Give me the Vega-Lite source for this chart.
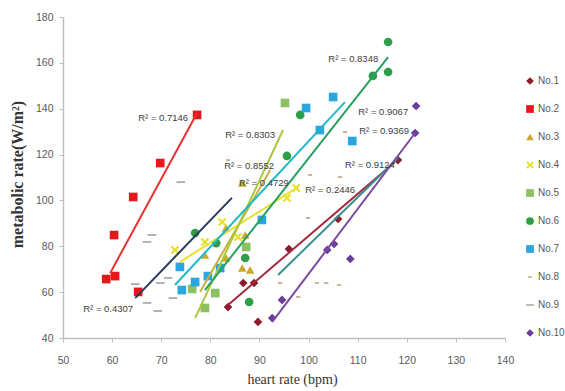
{
  "$schema": "https://vega.github.io/schema/vega-lite/v6.json",
  "width": 442,
  "height": 321,
  "autosize": {"type": "none"},
  "padding": {"left": 63, "top": 17, "right": 60, "bottom": 53},
  "background": "white",
  "config": {
    "view": {"stroke": null},
    "axis": {
      "grid": false,
      "labelFlush": false,
      "domainColor": "#bfbfbf",
      "domainWidth": 1.5,
      "tickColor": "#bfbfbf",
      "tickSize": 4,
      "labelColor": "#595959",
      "labelFont": "Liberation Sans",
      "labelFontSize": 10.5,
      "titleColor": "#333333",
      "titleFont": "Liberation Serif"
    },
    "legend": {
      "labelFont": "Liberation Sans",
      "labelFontSize": 10,
      "labelColor": "#595959",
      "symbolStrokeWidth": 0
    }
  },
  "datasets": {
    "pts": [
      {"series": "No.1", "hr": 83.6, "rate": 53.5},
      {"series": "No.1", "hr": 86.7, "rate": 64.0},
      {"series": "No.1", "hr": 88.9, "rate": 64.0},
      {"series": "No.1", "hr": 89.7, "rate": 47.0},
      {"series": "No.1", "hr": 96.0, "rate": 78.8},
      {"series": "No.1", "hr": 106.0, "rate": 91.9},
      {"series": "No.1", "hr": 118.2, "rate": 117.6},
      {"series": "No.2", "hr": 58.8, "rate": 65.7},
      {"series": "No.2", "hr": 60.6, "rate": 67.0},
      {"series": "No.2", "hr": 60.4, "rate": 84.9},
      {"series": "No.2", "hr": 64.3, "rate": 101.5},
      {"series": "No.2", "hr": 69.8, "rate": 116.3},
      {"series": "No.2", "hr": 77.3, "rate": 137.3},
      {"series": "No.2", "hr": 65.3, "rate": 60.1},
      {"series": "No.3", "hr": 78.9, "rate": 76.2},
      {"series": "No.3", "hr": 83.2, "rate": 74.9},
      {"series": "No.3", "hr": 87.1, "rate": 84.9},
      {"series": "No.3", "hr": 86.5, "rate": 70.5},
      {"series": "No.3", "hr": 88.1, "rate": 69.7},
      {"series": "No.3", "hr": 86.5, "rate": 107.6},
      {"series": "No.3", "hr": 83.2, "rate": 88.0},
      {"series": "No.4", "hr": 72.8, "rate": 78.4},
      {"series": "No.4", "hr": 78.9, "rate": 81.9},
      {"series": "No.4", "hr": 82.4, "rate": 90.6},
      {"series": "No.4", "hr": 85.6, "rate": 84.0},
      {"series": "No.4", "hr": 95.6, "rate": 101.1},
      {"series": "No.4", "hr": 97.5, "rate": 105.4},
      {"series": "No.5", "hr": 95.2, "rate": 142.5},
      {"series": "No.5", "hr": 76.3, "rate": 61.4},
      {"series": "No.5", "hr": 81.0, "rate": 59.6},
      {"series": "No.5", "hr": 78.9, "rate": 53.1},
      {"series": "No.5", "hr": 87.3, "rate": 79.7},
      {"series": "No.6", "hr": 116.2, "rate": 169.1},
      {"series": "No.6", "hr": 113.1, "rate": 154.3},
      {"series": "No.6", "hr": 116.2, "rate": 156.0},
      {"series": "No.6", "hr": 98.3, "rate": 137.3},
      {"series": "No.6", "hr": 95.6, "rate": 119.4},
      {"series": "No.6", "hr": 87.1, "rate": 74.9},
      {"series": "No.6", "hr": 87.9, "rate": 55.7},
      {"series": "No.6", "hr": 76.9, "rate": 85.8},
      {"series": "No.6", "hr": 81.2, "rate": 81.4},
      {"series": "No.7", "hr": 99.5, "rate": 140.3},
      {"series": "No.7", "hr": 105.0, "rate": 145.1},
      {"series": "No.7", "hr": 102.3, "rate": 130.7},
      {"series": "No.7", "hr": 108.9, "rate": 125.9},
      {"series": "No.7", "hr": 90.5, "rate": 91.5},
      {"series": "No.7", "hr": 73.8, "rate": 71.0},
      {"series": "No.7", "hr": 74.2, "rate": 60.9},
      {"series": "No.7", "hr": 76.9, "rate": 64.4},
      {"series": "No.7", "hr": 79.5, "rate": 67.0},
      {"series": "No.7", "hr": 82.0, "rate": 70.5},
      {"series": "No.8", "hr": 100.3, "rate": 111.1},
      {"series": "No.8", "hr": 106.4, "rate": 110.2},
      {"series": "No.8", "hr": 99.9, "rate": 92.3},
      {"series": "No.8", "hr": 94.2, "rate": 64.0},
      {"series": "No.8", "hr": 101.7, "rate": 64.0},
      {"series": "No.8", "hr": 103.6, "rate": 64.0},
      {"series": "No.8", "hr": 106.2, "rate": 63.1},
      {"series": "No.8", "hr": 97.9, "rate": 57.9},
      {"series": "No.8", "hr": 107.4, "rate": 129.8},
      {"series": "No.8", "hr": 83.6, "rate": 117.6},
      {"series": "No.9", "hr": 74.0, "rate": 108.0},
      {"series": "No.9", "hr": 68.1, "rate": 84.9},
      {"series": "No.9", "hr": 67.1, "rate": 81.9},
      {"series": "No.9", "hr": 71.4, "rate": 66.2},
      {"series": "No.9", "hr": 69.8, "rate": 64.0},
      {"series": "No.9", "hr": 64.7, "rate": 63.5},
      {"series": "No.9", "hr": 72.4, "rate": 57.4},
      {"series": "No.9", "hr": 67.1, "rate": 55.3},
      {"series": "No.9", "hr": 69.3, "rate": 51.8},
      {"series": "No.10", "hr": 92.6, "rate": 48.7},
      {"series": "No.10", "hr": 94.6, "rate": 56.6},
      {"series": "No.10", "hr": 103.8, "rate": 78.4},
      {"series": "No.10", "hr": 105.2, "rate": 81.0},
      {"series": "No.10", "hr": 108.5, "rate": 74.5},
      {"series": "No.10", "hr": 121.7, "rate": 129.4},
      {"series": "No.10", "hr": 121.9, "rate": 141.2}
    ],
    "lines": [
      {"series": "No.1", "hr": 83.6, "rate": 54.4},
      {"series": "No.1", "hr": 117.6, "rate": 116.8},
      {"series": "No.2", "hr": 59.6, "rate": 68.3},
      {"series": "No.2", "hr": 77.3, "rate": 138.1},
      {"series": "No.3", "hr": 77.9, "rate": 60.1},
      {"series": "No.3", "hr": 92.2, "rate": 113.3},
      {"series": "No.4", "hr": 73.8, "rate": 73.1},
      {"series": "No.4", "hr": 97.5, "rate": 105.4},
      {"series": "No.5", "hr": 76.9, "rate": 48.7},
      {"series": "No.5", "hr": 94.8, "rate": 130.7},
      {"series": "No.6", "hr": 78.9, "rate": 60.9},
      {"series": "No.6", "hr": 116.2, "rate": 162.5},
      {"series": "No.7", "hr": 72.8, "rate": 63.1},
      {"series": "No.7", "hr": 107.4, "rate": 142.9},
      {"series": "No.8", "hr": 93.8, "rate": 67.5},
      {"series": "No.8", "hr": 118.2, "rate": 118.5},
      {"series": "No.9", "hr": 64.7, "rate": 57.4},
      {"series": "No.9", "hr": 84.4, "rate": 101.1},
      {"series": "No.10", "hr": 92.6, "rate": 47.0},
      {"series": "No.10", "hr": 121.7, "rate": 129.4}
    ],
    "labels": [
      {"label": "R² = 0.7146", "hr": 70.4, "rate": 135.9},
      {"label": "R² = 0.8303", "hr": 88.1, "rate": 128.5},
      {"label": "R² = 0.8552", "hr": 87.9, "rate": 115.0},
      {"label": "R² = 0.4729", "hr": 90.9, "rate": 107.6},
      {"label": "R² = 0.2446", "hr": 104.4, "rate": 104.5},
      {"label": "R² = 0.8348", "hr": 109.1, "rate": 161.7},
      {"label": "R² = 0.9067", "hr": 115.2, "rate": 138.6},
      {"label": "R² = 0.9369", "hr": 115.4, "rate": 130.3},
      {"label": "R² = 0.9124", "hr": 112.5, "rate": 115.4},
      {"label": "R² = 0.4307", "hr": 59.2, "rate": 52.6}
    ]
  },
  "layer": [
    {
      "data": {"name": "pts"},
      "mark": {"type": "point", "filled": true, "opacity": 1, "size": 75},
      "encoding": {
        "x": {
          "field": "hr", "type": "quantitative",
          "scale": {"domain": [50, 140], "nice": false, "zero": false},
          "axis": {
            "title": "heart rate (bpm)",
            "values": [50, 60, 70, 80, 90, 100, 110, 120, 130, 140],
            "labelPadding": 13,
            "titleFontSize": 14,
            "titleFontWeight": "normal",
            "titleBaseline": "middle",
            "titleAlign": "center",
            "titleX": 229,
            "titleY": 41
          }
        },
        "y": {
          "field": "rate", "type": "quantitative",
          "scale": {"domain": [40, 180], "nice": false, "zero": false},
          "axis": {
            "title": "metabolic rate(W/m²)",
            "values": [40, 60, 80, 100, 120, 140, 160, 180],
            "labelPadding": 6,
            "titleFontSize": 16,
            "titleFontWeight": "bold",
            "titleAngle": -90,
            "titleBaseline": "middle",
            "titleAlign": "center",
            "titleX": -46,
            "titleY": 157
          }
        },
        "color": {
          "field": "series", "type": "nominal",
          "scale": {
            "domain": ["No.1", "No.2", "No.3", "No.4", "No.5", "No.6", "No.7", "No.8", "No.9", "No.10"],
            "range": ["#8b1c2c", "#e3191c", "#c9aa2e", "#e9e02a", "#8cc060", "#2e9e48", "#2aa6e0", "#c8a888", "#a8a8a8", "#6a3d9a"]
          },
          "legend": {
            "title": null,
            "orient": "none",
            "legendX": 462,
            "legendY": 59,
            "rowPadding": 18,
            "symbolSize": 60,
            "labelOffset": 3,
            "padding": 0
          }
        },
        "shape": {
          "field": "series", "type": "nominal",
          "scale": {
            "domain": ["No.1", "No.2", "No.3", "No.4", "No.5", "No.6", "No.7", "No.8", "No.9", "No.10"],
            "range": ["diamond", "square", "triangle-up", "M-1,-0.65L-0.65,-1L0,-0.35L0.65,-1L1,-0.65L0.35,0L1,0.65L0.65,1L0,0.35L-0.65,1L-1,0.65L-0.35,0Z", "square", "circle", "square", "M-0.5,-0.2H0.5V0.2H-0.5Z", "M-1,-0.2H1V0.2H-1Z", "diamond"]
          },
          "legend": {
            "title": null,
            "orient": "none",
            "legendX": 462,
            "legendY": 59,
            "rowPadding": 18,
            "symbolSize": 60,
            "labelOffset": 3,
            "padding": 0
          }
        }
      }
    },
    {
      "data": {"name": "lines"},
      "mark": {"type": "line", "strokeWidth": 2},
      "encoding": {
        "x": {"field": "hr", "type": "quantitative", "scale": {"domain": [50, 140], "nice": false, "zero": false}},
        "y": {"field": "rate", "type": "quantitative", "scale": {"domain": [40, 180], "nice": false, "zero": false}},
        "detail": {"field": "series"},
        "stroke": {
          "field": "series", "type": "nominal",
          "scale": {
            "domain": ["No.1", "No.2", "No.3", "No.4", "No.5", "No.6", "No.7", "No.8", "No.9", "No.10"],
            "range": ["#a3283c", "#e8322f", "#c8b040", "#e6e030", "#a8c83c", "#27a062", "#20b8c8", "#3a8f8f", "#2a3a5c", "#7b4aa0"]
          },
          "legend": null
        }
      }
    },
    {
      "data": {"name": "labels"},
      "mark": {"type": "text", "fontSize": 9.5, "color": "#404040", "font": "Liberation Sans", "align": "center", "baseline": "middle"},
      "encoding": {
        "x": {"field": "hr", "type": "quantitative", "scale": {"domain": [50, 140], "nice": false, "zero": false}},
        "y": {"field": "rate", "type": "quantitative", "scale": {"domain": [40, 180], "nice": false, "zero": false}},
        "text": {"field": "label"}
      }
    }
  ]
}
